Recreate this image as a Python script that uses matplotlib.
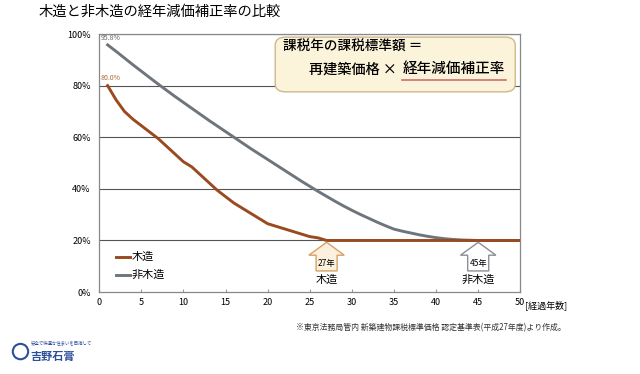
import matplotlib
matplotlib.use("Agg")
import matplotlib.pyplot as plt
from matplotlib.patches import Polygon, FancyBboxPatch, Ellipse

plt.rcParams['font.family'] = ['Noto Sans CJK JP', 'DejaVu Sans']

# data
years = list(range(1, 51))
wood = [80.0, 74.5, 70.0, 67.0, 64.5, 62.0, 59.5, 56.5, 53.5, 50.5,
        48.5, 45.5, 42.5, 39.5, 37.0, 34.5, 32.5, 30.5, 28.5, 26.5,
        25.5, 24.5, 23.5, 22.5, 21.5, 21.0] + [20.0] * 24
nonwood = [95.8, 93.3, 90.7, 88.1, 85.6, 83.1, 80.6, 78.2, 75.8, 73.5,
           71.2, 68.9, 66.6, 64.4, 62.2, 60.0, 57.8, 55.6, 53.5, 51.4,
           49.3, 47.2, 45.1, 43.0, 41.0, 39.0, 37.1, 35.2, 33.4, 31.7,
           30.1, 28.6, 27.1, 25.7, 24.4, 23.6, 22.9, 22.2, 21.6, 21.1,
           20.7, 20.4, 20.2, 20.1] + [20.0] * 6
x_ticks = list(range(0, 51, 5))
y_ticks = [0, 20, 40, 60, 80, 100]
y_labels = ['0%', '20%', '40%', '60%', '80%', '100%']
markers = [(27, '27年', '木造', '#d9a066', '#fbf1de'),
           (45, '45年', '非木造', '#8a8f96', '#ffffff')]

wood_color = '#9a4a1f'
gray_color = '#6f757d'

fig = plt.figure(figsize=(6.4, 3.74), dpi=100)
ax = fig.add_axes([0.155, 0.219, 0.658, 0.69])

ax.plot(years, nonwood, color=gray_color, lw=2.1, label='非木造', zorder=3)
ax.plot(years, wood, color=wood_color, lw=2.1, label='木造', zorder=4)

ax.set_xlim(0, 50)
ax.set_ylim(0, 100)
ax.set_xticks(x_ticks)
ax.set_xticklabels([str(t) for t in x_ticks], fontsize=6.5)
ax.set_yticks(y_ticks)
ax.set_yticklabels(y_labels, fontsize=6.5)
ax.tick_params(axis='x', direction='in', length=2.5, color='#999999', pad=4)
ax.tick_params(axis='y', length=0, pad=6)
for y in y_ticks[1:]:
    ax.axhline(y, color='#555555', lw=0.8, zorder=1)
for s in ax.spines.values():
    s.set_color('#888888')
    s.set_linewidth(0.9)

ax.text(50.6, -3.3, '[経過年数]', fontsize=6.5, ha='left', va='top')

# start value labels
ax.text(0.2, 97.0, '%.1f%%' % nonwood[0], fontsize=5, color='#666666', va='bottom')
ax.text(0.2, 81.3, '%.1f%%' % wood[0], fontsize=5, color='#b0643a', va='bottom')

# legend
ax.plot([2.0, 3.6], [13.7, 13.7], color=wood_color, lw=2.1)
ax.text(3.8, 13.7, '木造', fontsize=8, va='center')
ax.plot([2.0, 3.6], [6.6, 6.6], color=gray_color, lw=2.1)
ax.text(3.8, 6.6, '非木造', fontsize=8, va='center')

# block arrows
for xm, lab, name, ec, fc in markers:
    tip, sh, bot = 19.3, 14.3, 8.2
    hw, bw = 2.1, 1.25
    pts = [(xm, tip), (xm + hw, sh), (xm + bw, sh), (xm + bw, bot),
           (xm - bw, bot), (xm - bw, sh), (xm - hw, sh)]
    ax.add_patch(Polygon(pts, closed=True, fc=fc, ec=ec, lw=1.0, zorder=5))
    ax.text(xm, 11.0, lab, fontsize=6, ha='center', va='center', zorder=6)
    ax.text(xm, 4.8, name, fontsize=8, ha='center', va='center', zorder=6)

# formula box
box = FancyBboxPatch((20.9, 77.6), 28.5, 21.2, boxstyle='round,pad=0,rounding_size=1.2',
                     fc='#fbf3da', ec='#cdb98a', lw=1.0, zorder=6,
                     transform=ax.transData, mutation_aspect=2.6)
ax.add_patch(box)
ax.text(21.8, 95.0, '課税年の課税標準額 ＝', fontsize=9.8, fontweight='medium', va='center', zorder=7)
ax.text(24.9, 86.3, '再建築価格 ×', fontsize=10.2, fontweight='medium', va='center', zorder=7)
ax.text(36.0, 86.3, '経年減価補正率', fontsize=10.5, fontweight='medium', va='center', ha='left', zorder=7)
ax.plot([36.0, 48.3], [82.3, 82.3], color='#d0706a', lw=1.2, zorder=7)

fig.text(0.06, 0.968, '木造と非木造の経年減価補正率の比較', fontsize=10.3, va='center')
fig.text(0.463, 0.125, '※東京法務局管内 新築建物課税標準価格 認定基準表(平成27年度)より作成。',
         fontsize=5.7, va='center', color='#333333')
fig.text(0.048, 0.047, '吉野石膏', fontsize=8, fontweight='bold', color='#2b4f9a', va='center')
fig.text(0.048, 0.083, '安全で快適な住まいを目指して', fontsize=3.2, color='#2b4f9a', va='center')
fig.patches.append(Ellipse((0.032, 0.06), 0.024, 0.024 * 640 / 374, transform=fig.transFigure,
                           fc='white', ec='#2b4f9a', lw=1.5, figure=fig))

fig.savefig('out.png', dpi=100, facecolor='white')
